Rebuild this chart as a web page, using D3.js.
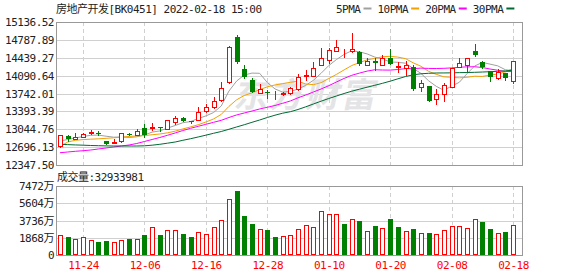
<!DOCTYPE html>
<html>
<head>
<meta charset="utf-8">
<script src="https://cdn.jsdelivr.net/npm/d3@7"></script>
<style>
body { margin: 0; background: #fff; }
svg { display: block; }
</style>
</head>
<body>
<svg width="578" height="276"></svg>
<script>
// trading days shown on the chart
var dates = ["11-19","11-22","11-23","11-24","11-25","11-26","11-29","11-30","12-01","12-02",
  "12-03","12-06","12-07","12-08","12-09","12-10","12-13","12-14","12-15","12-16",
  "12-17","12-20","12-21","12-22","12-23","12-24","12-27","12-28","12-29","12-30",
  "12-31","01-04","01-05","01-06","01-07","01-10","01-11","01-12","01-13","01-14",
  "01-17","01-18","01-19","01-20","01-21","01-24","01-25","01-26","01-27","01-28",
  "02-07","02-08","02-09","02-10","02-11","02-14","02-15","02-16","02-17","02-18"];

var open = [12718,12913,12860,12888,12966,12972,12816,12771,12806,12960,12938,13069,13073,13092,13059,13180,13264,13211,13225,13400,
  13484,13609,13960,14843,14219,14005,13757,13771,13726,13726,13746,13824,14093,14083,14303,14399,14580,14610,14571,14561,
  14301,14385,14307,14438,14264,14245,14259,13863,13888,13629,13732,13874,14264,14298,14576,14350,14181,14050,14147,13991];
var high = [12942,12923,12962,12972,13026,13011,12821,12864,12972,12981,13059,13153,13172,13094,13225,13309,13287,13215,13473,13537,
  13673,13960,14668,14886,14297,14038,13927,13804,13790,13771,13878,14118,14200,14356,14629,14629,14795,14613,14927,14576,
  14440,14444,14493,14610,14366,14385,14298,14005,13898,13824,13941,14249,14428,14434,14707,14381,14186,14214,14151,14385];
var low = [12699,12825,12855,12884,12952,12933,12751,12767,12802,12923,12933,12903,13024,13001,13055,13141,13196,13176,13219,13375,
  13465,13595,13956,14346,14050,13771,13751,13648,13640,13712,13732,13820,14005,14083,14298,14346,14576,14454,14561,14298,
  14298,14200,14303,14317,14161,14103,13820,13796,13595,13537,13601,13869,14259,14167,14473,14249,13991,14030,14005,13952];
var close = [12938,12860,12899,12946,12991,12952,12757,12800,12966,12944,13016,12933,13085,13085,13219,13264,13211,13192,13387,13473,
  13595,13843,14648,14362,14063,13777,13829,13746,13742,13751,13843,14058,14106,14239,14434,14590,14645,14611,14606,14327,
  14381,14331,14428,14323,14284,14298,13826,13952,13601,13732,13908,14233,14331,14428,14493,14253,14069,14167,14050,14381];

// volume in 万, and whether the day closed above the previous close
var volume = [2166,1949,1697,1913,1588,1408,1516,1372,1588,1733,1697,2166,2996,2166,2671,2671,2274,1949,2455,2238,
  2996,3754,6028,6930,4223,3357,2779,2707,1949,2021,2166,2779,3213,2996,4728,4404,4404,3357,3862,3682,
  2563,3140,2888,3898,3032,2563,2815,2382,2382,2238,2671,3104,3104,2888,3862,3573,2815,2346,2491,3293];
var volumeUp = [1,0,1,1,1,0,0,1,1,0, 1,0,1,0,1,1,0,0,1,1, 1,1,1,0,0,0,1,0,0,1,
  1,1,1,1,1,1,1,0,1,0, 1,0,1,0,0,1,0,1,0,1, 1,1,1,1,1,0,0,1,0,1];
var lastVolume = 32933981;

var ma5 = [12816,12845,12874,12903,12927,12931,12909,12890,12894,12884,12897,12933,12989,13012,13067,13118,13172,13194,13254,13305,
  13371,13498,13789,13984,14103,14140,14136,13956,13831,13769,13783,13828,13900,13999,14136,14286,14403,14504,14576,14555,
  14514,14452,14415,14358,14350,14333,14231,14136,13991,13882,13804,13886,13960,14126,14278,14348,14315,14282,14206,14184];
var ma10 = [12708,12796,12829,12843,12851,12858,12868,12878,12890,12905,12913,12921,12938,12952,12975,13007,13051,13090,13133,13186,
  13245,13334,13490,13619,13703,13755,13816,13872,13908,13935,13960,13982,13927,13915,13952,14034,14114,14202,14288,14344,
  14399,14426,14459,14467,14452,14422,14340,14274,14175,14116,14067,14058,14048,14058,14079,14075,14101,14120,14165,14231];
var ma20 = [12587,12601,12615,12626,12640,12660,12679,12699,12718,12738,12767,12806,12845,12884,12927,12972,13020,13063,13102,13141,
  13180,13219,13274,13323,13362,13400,13440,13473,13508,13551,13596,13658,13712,13771,13830,13894,13966,14036,14097,14140,
  14179,14205,14200,14198,14210,14227,14227,14237,14231,14229,14233,14241,14253,14262,14264,14249,14220,14196,14169,14173];
var ma30 = [12751,12745,12739,12734,12728,12724,12720,12718,12718,12718,12718,12722,12734,12751,12773,12796,12829,12860,12894,12929,
  12966,13001,13044,13089,13133,13180,13225,13274,13319,13358,13387,13430,13482,13537,13592,13644,13693,13742,13787,13826,
  13865,13902,13941,13982,14028,14073,14106,14126,14136,14142,14143,14145,14149,14151,14155,14161,14167,14175,14184,14194];

var priceTicks = [12347.50,12696.13,13044.76,13393.39,13742.01,14090.64,14439.27,14787.89,15136.52];
var volumeTicks = [0,1868,3736,5604,7472];
var dateTicks = ["11-24","12-06","12-16","12-28","01-10","01-20","02-08","02-18"];

var maNames = ["5PMA","10PMA","20PMA","30PMA"];
var maColors = ["#a0a0a0","#f4a000","#ff00ff","#006a33"];

var svg = d3.select("svg"),
    width = +svg.attr("width"),
    height = +svg.attr("height");

var font = "'DejaVu Sans Mono', 'Noto Sans CJK SC', monospace";
svg.attr("font-family", font).attr("font-size", 11).style("letter-spacing", "-0.5px");

var left = 56, right = 522,
    priceTop = 22, priceBottom = 165,
    volTop = 186, volBottom = 255,
    red = "#ff0000", green = "#008000";

var x = d3.scalePoint().domain(dates).range([60, 513]);
var y = d3.scaleLinear().domain([priceTicks[0], priceTicks[priceTicks.length - 1]]).range([priceBottom, priceTop]);
var vy = d3.scaleLinear().domain([0, volumeTicks[volumeTicks.length - 1]]).range([volBottom, volTop]);

function px(v) { return Math.round(v) + 0.5; }
function cx(d) { return px(x(d)); }

// grid
var grid = svg.append("g").attr("stroke", "#d0d0d0");
grid.selectAll(null).data(priceTicks).enter().append("line")
    .attr("x1", left).attr("x2", right)
    .attr("y1", function(d) { return px(y(d)); })
    .attr("y2", function(d) { return px(y(d)); });
grid.selectAll(null).data(volumeTicks).enter().append("line")
    .attr("x1", left).attr("x2", right)
    .attr("y1", function(d) { return px(vy(d)); })
    .attr("y2", function(d) { return px(vy(d)); });
[[priceTop, priceBottom], [volTop, volBottom]].forEach(function(r) {
  grid.selectAll(null).data(dateTicks).enter().append("line")
      .attr("stroke-dasharray", "4,3")
      .attr("x1", cx).attr("x2", cx)
      .attr("y1", r[0]).attr("y2", r[1]);
});

// watermark
svg.append("text")
    .attr("transform", "translate(233,107) skewX(-12)")
    .attr("font-family", "'Noto Sans CJK SC'")
    .attr("font-weight", "bold")
    .attr("font-size", 34)
    .style("letter-spacing", "2px")
    .attr("fill", "#e4e4e6")
    .text("东方财富");

// moving averages
[ma5, ma10, ma20, ma30].forEach(function(ma, k) {
  svg.append("path")
      .datum(ma)
      .attr("fill", "none")
      .attr("stroke", maColors[k])
      .attr("d", d3.line()
          .x(function(d, i) { return x(dates[i]); })
          .y(function(d) { return y(d); }));
});

// candles
var candle = svg.append("g").selectAll("g")
    .data(dates)
  .enter().append("g");

candle.append("line")
    .attr("stroke", function(d, i) { return close[i] >= open[i] ? red : green; })
    .attr("x1", cx).attr("x2", cx)
    .attr("y1", function(d, i) { return Math.round(y(high[i])); })
    .attr("y2", function(d, i) { return Math.round(y(low[i])) + 1; });

candle.append("rect")
    .each(function(d, i) {
      var top = Math.round(y(Math.max(open[i], close[i]))),
          bottom = Math.round(y(Math.min(open[i], close[i]))),
          c = cx(d);
      if (close[i] >= open[i]) {
        d3.select(this)
            .attr("x", c - 2).attr("y", top + 0.5)
            .attr("width", 4).attr("height", Math.max(bottom - top, 0))
            .attr("fill", "#fff").attr("stroke", red);
      } else {
        d3.select(this)
            .attr("x", c - 2.5).attr("y", top)
            .attr("width", 5).attr("height", Math.max(bottom - top, 1))
            .attr("fill", green);
      }
    });

// volume bars
svg.append("g").selectAll("rect")
    .data(dates)
  .enter().append("rect")
    .each(function(d, i) {
      var top = Math.round(vy(volume[i])), c = cx(d);
      if (volumeUp[i]) {
        d3.select(this)
            .attr("x", c - 2).attr("y", top + 0.5)
            .attr("width", 4).attr("height", volBottom - top - 1)
            .attr("fill", "#fff").attr("stroke", red);
      } else {
        d3.select(this)
            .attr("x", c - 2.5).attr("y", top)
            .attr("width", 5).attr("height", volBottom - top)
            .attr("fill", green);
      }
    });

// frames
[[priceTop, priceBottom], [volTop, volBottom]].forEach(function(r) {
  svg.append("rect")
      .attr("x", left + 0.5).attr("y", r[0] + 0.5)
      .attr("width", right - left).attr("height", r[1] - r[0])
      .attr("fill", "none").attr("stroke", "#999");
});

// axes
function styleAxis(g, color) {
  g.attr("font-family", font).attr("font-size", 11);
  g.select(".domain").remove();
  g.selectAll("text").attr("fill", color);
}

svg.append("g")
    .attr("transform", "translate(" + (left - 2) + ",0)")
    .call(d3.axisLeft(y).tickValues(priceTicks).tickFormat(d3.format(".2f")).tickSize(0).tickPadding(0))
    .call(styleAxis, "#222");

svg.append("g")
    .attr("transform", "translate(" + (left - 2) + ",0)")
    .call(d3.axisLeft(vy).tickValues(volumeTicks)
        .tickFormat(function(d) { return d ? d + "万" : "0"; })
        .tickSize(0).tickPadding(0))
    .call(styleAxis, "#222");

svg.append("g")
    .attr("transform", "translate(0," + volBottom + ")")
    .call(d3.axisBottom(x).tickValues(dateTicks).tickSize(0).tickPadding(6))
    .call(styleAxis, red);

// titles
svg.append("text")
    .attr("x", left).attr("y", 13)
    .attr("fill", "#222")
    .text("房地产开发[BK0451] 2022-02-18 15:00");

svg.append("text")
    .attr("x", left + 1).attr("y", 181)
    .attr("fill", "#222")
    .text("成交量:" + lastVolume);

// legend
var lx = 336;
maNames.forEach(function(name, k) {
  var t = svg.append("text")
      .attr("x", lx).attr("y", 13)
      .attr("fill", "#222")
      .text(name);
  lx += t.node().getComputedTextLength() + 3;
  svg.append("line")
      .attr("x1", lx).attr("x2", lx + 8)
      .attr("y1", 8.5).attr("y2", 8.5)
      .attr("stroke", maColors[k])
      .attr("stroke-width", 2);
  lx += 14;
});
</script>
</body>
</html>
